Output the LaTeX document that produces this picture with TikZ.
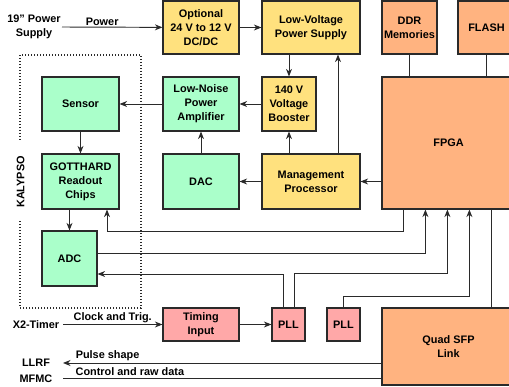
\documentclass[tikz,border=0pt]{standalone}
\usepackage{fontspec}
\setmainfont{Liberation Sans}
\usetikzlibrary{arrows.meta}
\definecolor{cyel}{HTML}{FFE17E}
\definecolor{cgrn}{HTML}{AAFFCA}
\definecolor{corg}{HTML}{FFB380}
\definecolor{cpnk}{HTML}{FFA8A8}
\definecolor{cline}{HTML}{2A2A2A}
\begin{document}
\begin{tikzpicture}[x=1pt,y=-1pt,
  font=\fontsize{10.9}{14}\selectfont\bfseries,
  box/.style={draw=cline, line width=1.2pt, align=center, inner sep=1pt},
  ybox/.style={box, fill=cyel},
  gbox/.style={box, fill=cgrn},
  obox/.style={box, fill=corg},
  pbox/.style={box, fill=cpnk},
  con/.style={line width=0.95pt, draw=cline},
  arr/.style={con, -{Stealth[length=7.5pt,width=6pt,inset=2.4pt]}},
  lbl/.style={above, inner sep=1.5pt},
  plain/.style={align=center, inner sep=1pt}]
\useasboundingbox (0,0) rectangle (509,387);

% boxes
\node[ybox, minimum width=76pt, minimum height=53pt] (dcdc) at (201,27.5) {Optional\\24 V to 12 V\\DC/DC};
\node[ybox, minimum width=98pt, minimum height=53pt] (lvps) at (311,27.5) {Low-Voltage\\Power Supply};
\node[obox, minimum width=55pt, minimum height=53pt] (ddr) at (409.5,27.5) {DDR\\Memories};
\node[obox, minimum width=57pt, minimum height=53pt] (flash) at (486.5,27.5) {FLASH};
\node[obox, minimum width=133pt, minimum height=132pt] (fpga) at (448.5,143) {FPGA};
\node[ybox, minimum width=54pt, minimum height=54pt] (boost) at (289,104) {140 V\\Voltage\\Booster};
\node[ybox, minimum width=98pt, minimum height=55pt] (mgmt) at (311,181.5) {Management\\Processor};
\node[gbox, minimum width=76pt, minimum height=54pt] (lnpa) at (201,104) {Low-Noise\\Power\\Amplifier};
\node[gbox, minimum width=76pt, minimum height=55pt] (dac) at (201,181.5) {DAC};
\node[gbox, minimum width=77pt, minimum height=54pt] (sensor) at (80.5,104) {Sensor};
\node[gbox, minimum width=77pt, minimum height=55pt] (gott) at (80.5,181.5) {GOTTHARD\\Readout\\Chips};
\node[gbox, minimum width=55pt, minimum height=55pt] (adc) at (69.5,258.5) {ADC};
\node[pbox, minimum width=76pt, minimum height=33pt] (timing) at (201,324.5) {Timing\\Input};
\node[pbox, minimum width=33pt, minimum height=33pt] (pll1) at (288.5,324.5) {PLL};
\node[pbox, minimum width=33pt, minimum height=33pt] (pll2) at (343.5,324.5) {PLL};
\node[obox, minimum width=133pt, minimum height=77pt] (sfp) at (448.5,346.5) {Quad SFP\\Link};

% outside texts
\node[plain] (ps) at (34,27) {19\symbol{34} Power\\Supply};
\node[plain] (x2) at (36,324.5) {X2-Timer};
\node[plain] (llrf) at (36,363) {LLRF};
\node[plain] (mfmc) at (36,378.5) {MFMC};
\node[rotate=90, inner sep=1pt] (kal) at (20.5,182) {KALYPSO};
\coordinate (psend) at (62,27);
\coordinate (x2end) at (63,324.5);
\coordinate (llrfend) at (63,363);
\coordinate (mfmcend) at (63,378);

% dotted KALYPSO frame
\draw[line width=1.1pt, cline, dash pattern=on 1pt off 2pt]
  (20,140) -- (20,55) -- (141,55) -- (141,308) -- (20,308) -- (20,221);

% connectors
\draw[arr] (psend) -- (dcdc) node[lbl, pos=0.4] {Power};
\draw[arr] (dcdc) -- (lvps);
\draw[arr] (boost.north |- lvps.south) -- (boost.north);
\draw[arr] ([xshift=27pt]mgmt.north) -- ([xshift=27pt]mgmt.north |- lvps.south);
\draw[arr] (boost) -- (lnpa);
\draw[arr] (lnpa) -- (sensor);
\draw[arr] (sensor) -- (gott);
\draw[arr] (dac) -- (lnpa);
\draw[arr] (boost.south |- mgmt.north) -- (boost.south);
\draw[arr] (mgmt) -- (dac);
\draw[arr] (fpga.west |- mgmt) -- (mgmt);
\draw[con] (ddr) -- (ddr |- fpga.north);
\draw[con] (flash) -- (flash |- fpga.north);
\draw[arr] (adc.north |- gott.south) -- (adc.north);
\draw[arr] ([xshift=22pt]fpga.south west) -- ++(0,22) -| ([xshift=26.5pt]gott.south);
\draw[arr] ([yshift=5.5pt]adc.east) -| ([xshift=44pt]fpga.south west);
\draw[arr] ([xshift=-5.5pt]pll1.north) |- ([yshift=-15.5pt]adc.east);
\draw[arr] ([xshift=5.5pt]pll1.north) -- ++(0,-34) -| ([xshift=66pt]fpga.south west);
\draw[arr] (pll2.north) -- ++(0,-11) -| ([xshift=88pt]fpga.south west);
\draw[con] ([xshift=110pt]fpga.south west) -- ([xshift=110pt]sfp.north west);
\draw[arr] (timing) -- (pll1);
\draw[arr] (x2end) -- (timing) node[lbl, midway] {Clock and Trig.};
\draw[arr] ([yshift=-16.5pt]sfp.west) -- (llrfend) node[lbl, pos=0.86] {Pulse shape};
\draw[con] (mfmcend) -- ([yshift=-31.5pt]sfp.west) node[lbl, pos=0.21] {Control and raw data};
\end{tikzpicture}
\end{document}
